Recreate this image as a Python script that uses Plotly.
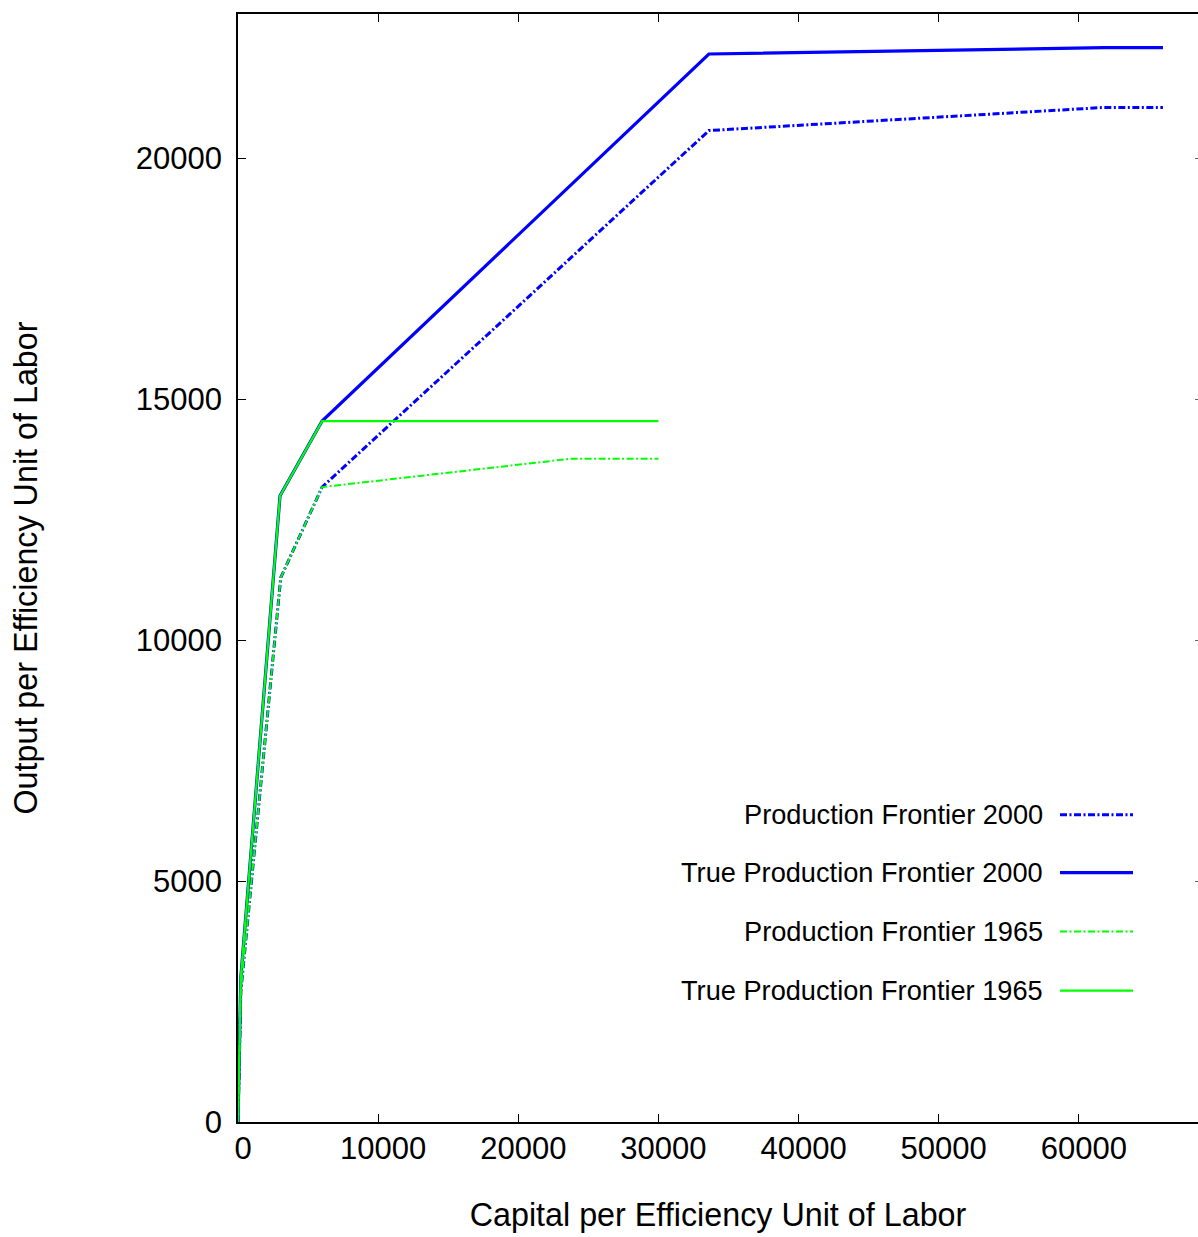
import plotly.graph_objects as go

# Capital (x) and output (y) per efficiency unit of labor for each frontier
cap_pf_2000 = [0, 200, 3050, 6000, 33600, 61800, 66000]
out_pf_2000 = [0, 2700, 11300, 13180, 20580, 21060, 21060]

cap_true_2000 = [0, 200, 3000, 6000, 33600, 61800, 66000]
out_true_2000 = [0, 3000, 13000, 14550, 22170, 22300, 22300]

cap_pf_1965 = [0, 200, 3050, 6000, 23800, 30000]
out_pf_1965 = [0, 2700, 11300, 13180, 13770, 13770]

cap_true_1965 = [0, 200, 3000, 6000, 30000]
out_true_1965 = [0, 3000, 13000, 14550, 14550]

series_names = [
    "Production Frontier 2000",
    "True Production Frontier 2000",
    "Production Frontier 1965",
    "True Production Frontier 1965",
]
x_ticks = [0, 10000, 20000, 30000, 40000, 50000, 60000]
y_ticks = [0, 5000, 10000, 15000, 20000]

BLUE = "#0000ff"
GREEN = "#00ff00"
DASHDOT = "7px,2.5px,2px,2.5px"
FONT = "Liberation Sans, Arial, sans-serif"

styles = [
    dict(color=BLUE, width=3, dash=DASHDOT),
    dict(color=BLUE, width=3.2, dash="solid"),
    dict(color=GREEN, width=2, dash=DASHDOT),
    dict(color=GREEN, width=2.3, dash="solid"),
]
data = [
    (cap_pf_2000, out_pf_2000),
    (cap_true_2000, out_true_2000),
    (cap_pf_1965, out_pf_1965),
    (cap_true_1965, out_true_1965),
]

fig = go.Figure()
for (xs, ys), name, st in zip(data, series_names, styles):
    fig.add_trace(go.Scatter(x=xs, y=ys, mode="lines", name=name,
                             line=st, showlegend=False))

# invisible helper trace so the right-hand tick stubs get drawn
fig.add_trace(go.Scatter(x=[0], y=[0], yaxis="y2", mode="markers",
                         marker=dict(opacity=0), showlegend=False,
                         hoverinfo="skip"))

X_MAX = 68500
Y_MAX = 23000

fig.update_layout(
    width=1198, height=1237,
    margin=dict(l=238, r=0, t=14, b=115),
    paper_bgcolor="white", plot_bgcolor="white",
    font=dict(family=FONT, size=31, color="black"),
    xaxis=dict(
        range=[0, X_MAX], tickvals=x_ticks, ticktext=[str(v) for v in x_ticks],
        ticks="inside", ticklen=8, tickwidth=1.2, tickcolor="black",
        showline=True, linecolor="black", linewidth=1.6, mirror="ticks",
        showgrid=False, zeroline=False,
        tickfont=dict(family=FONT, size=31),
        ticklabelstandoff=-2, ticklabelshift=5,
        title=dict(text="Capital per Efficiency Unit of Labor",
                   font=dict(family=FONT, size=32.3), standoff=38),
    ),
    yaxis=dict(
        range=[0, Y_MAX], tickvals=y_ticks, ticktext=[str(v) for v in y_ticks],
        ticks="inside", ticklen=8, tickwidth=1.2, tickcolor="black",
        showline=True, linecolor="black", linewidth=1.6, mirror=False,
        showgrid=False, zeroline=False,
        tickfont=dict(family=FONT, size=31),
        ticklabelstandoff=8,
        title=dict(text="Output per Efficiency Unit of Labor",
                   font=dict(family=FONT, size=32.3), standoff=88),
    ),
    yaxis2=dict(
        range=[0, Y_MAX], overlaying="y", side="right", tickvals=y_ticks,
        ticks="inside", ticklen=3, tickwidth=1, tickcolor="#666",
        showticklabels=False, showline=False, showgrid=False, zeroline=False,
    ),
)

# key: right-aligned labels followed by line samples
PLOT_W = 960.0
PLOT_H = 1108.5
row_px = [815, 873, 932, 991]
text_right_px = 1045
sample_px = (1060, 1133)
for name, st, ry in zip(series_names, styles, row_px):
    py = (1122.5 - ry) / PLOT_H
    fig.add_annotation(
        x=(text_right_px - 238) / PLOT_W, y=py, xref="paper", yref="paper",
        text=name, showarrow=False, xanchor="right", yanchor="middle",
        font=dict(family=FONT, size=27.2, color="black"),
    )
    fig.add_shape(
        type="line", xref="paper", yref="paper",
        x0=(sample_px[0] - 238) / PLOT_W, x1=(sample_px[1] - 238) / PLOT_W,
        y0=py, y1=py, line=st,
    )

fig.write_html("out.html")
